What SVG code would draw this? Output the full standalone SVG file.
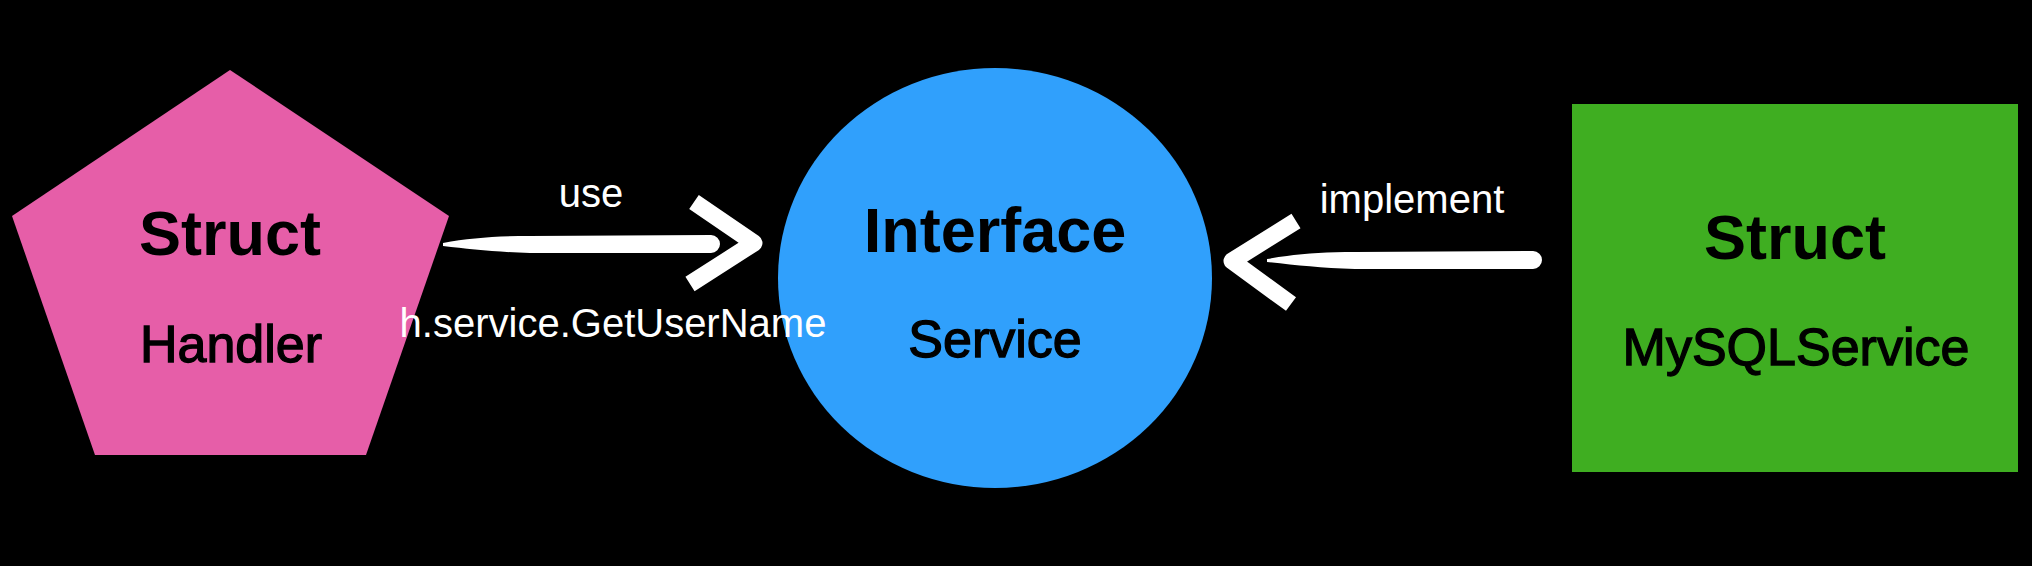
<svg xmlns="http://www.w3.org/2000/svg" width="2032" height="566" viewBox="0 0 2032 566">
  <style>
    .title { font-family: "Liberation Sans", Arial, sans-serif; font-weight: 700; font-size: 63px; fill: #000; text-anchor: middle; }
    .sub { font-family: "Liberation Sans", Arial, sans-serif; font-weight: 400; font-size: 52px; fill: #000; stroke: #000; stroke-width: 1.3; text-anchor: middle; }
    .lbl { font-family: "Liberation Sans", Arial, sans-serif; font-weight: 400; font-size: 40px; fill: #fff; text-anchor: middle; }
    .shaft { fill: #fff; }
    .head { fill: none; stroke: #fff; stroke-width: 17; stroke-linejoin: round; stroke-linecap: butt; }
  </style>
  <rect x="0" y="0" width="2032" height="566" fill="#000"/>

  <g id="handler">
    <polygon points="230,70 449,216 366,455 95,455 12,216" fill="#E65EA8"/>
    <text class="title" x="230" y="255">Struct</text>
    <text class="sub" x="231" y="362">Handler</text>
  </g>

  <g id="service">
    <ellipse cx="995" cy="278" rx="217" ry="210" fill="#30A0FC"/>
    <text class="title" x="995" y="252">Interface</text>
    <text class="sub" x="995" y="357">Service</text>
  </g>

  <g id="mysqlservice">
    <rect x="1572" y="104" width="446" height="368" fill="#3FAE21"/>
    <text class="title" x="1795" y="259">Struct</text>
    <text class="sub" x="1796" y="365">MySQLService</text>
  </g>

  <g id="connectors">
    <g id="edge-use">
      <path class="shaft" d="M443,243 C470,238 495,236 530,236 L711,235 A9,9 0 0 1 711,253 L530,253 C495,252 470,249 443,246 Z"/>
      <polyline class="head" points="694,202 754,243 690,284"/>
      <text class="lbl" x="591" y="207">use</text>
      <text class="lbl" x="613" y="337">h.service.GetUserName</text>
    </g>
    <g id="edge-implement">
      <path class="shaft" d="M1267,259 C1295,254 1320,252 1355,252 L1533,251 A9,9 0 0 1 1533,269 L1355,269 C1320,268 1295,265 1267,262 Z"/>
      <polyline class="head" points="1296,221 1232,261 1291,304"/>
      <text class="lbl" x="1412" y="213">implement</text>
    </g>
  </g>
</svg>
